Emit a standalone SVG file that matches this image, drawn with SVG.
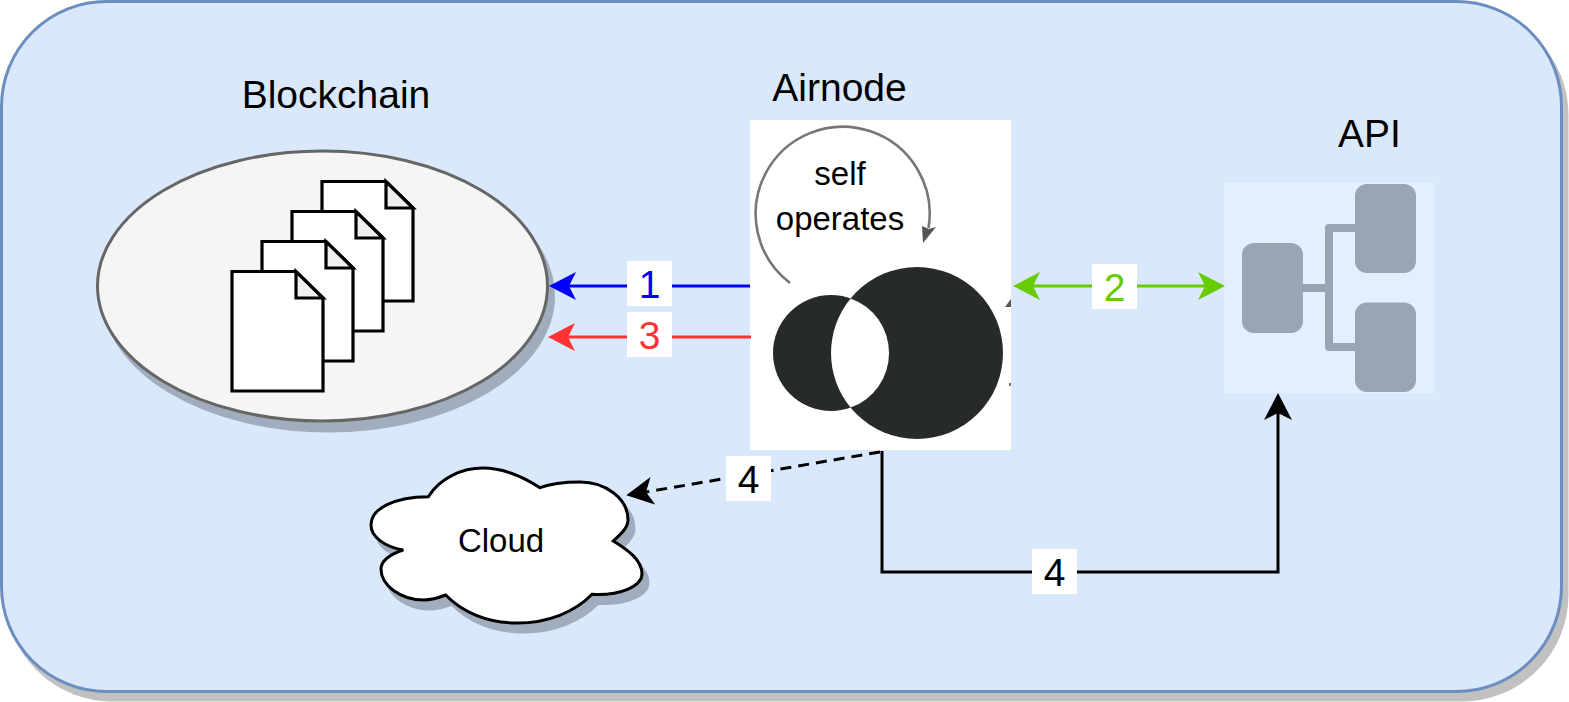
<svg xmlns="http://www.w3.org/2000/svg" width="1569" height="702" viewBox="0 0 1569 702">
<style>
text{font-family:"Liberation Sans",Arial,Helvetica,sans-serif;fill:#000;text-anchor:middle}
.t38{font-size:39px}
.t32{font-size:33px}
.box{fill:#fff}
.doc{fill:#fff;stroke:#000;stroke-width:3.2;stroke-linejoin:miter}
.fold{fill:#f0f0f0;stroke:#000;stroke-width:3.2}
.edge{fill:none;stroke-width:3}
.blk{fill:#9aa4b2}
.lnk{fill:none;stroke:#9aa4b2;stroke-width:8;stroke-linejoin:round}
</style>
<defs>
<filter id="soft" x="-5%" y="-5%" width="110%" height="110%"><feGaussianBlur stdDeviation="0.6"/></filter>
<marker id="mBlue" markerUnits="userSpaceOnUse" markerWidth="27" markerHeight="28" viewBox="0 0 27 28" refX="7" refY="14" orient="auto"><path d="M27,14 L0,0 L7,14 L0,28 Z" fill="#0000ff"/></marker>
<marker id="mRed" markerUnits="userSpaceOnUse" markerWidth="27" markerHeight="28" viewBox="0 0 27 28" refX="7" refY="14" orient="auto"><path d="M27,14 L0,0 L7,14 L0,28 Z" fill="#ff3333"/></marker>
<marker id="mGreen" markerUnits="userSpaceOnUse" markerWidth="27" markerHeight="28" viewBox="0 0 27 28" refX="7" refY="14" orient="auto-start-reverse"><path d="M27,14 L0,0 L7,14 L0,28 Z" fill="#66cc00"/></marker>
<marker id="mBlack" markerUnits="userSpaceOnUse" markerWidth="27" markerHeight="28" viewBox="0 0 27 28" refX="7" refY="14" orient="auto"><path d="M27,14 L0,0 L7,14 L0,28 Z" fill="#000"/></marker>
</defs>

<g id="frame">
<rect x="7" y="10" width="1560" height="690" rx="105" fill="#c1c1c1" stroke="#c1c1c1" stroke-width="3"/>
<rect x="1.5" y="1.5" width="1560" height="690" rx="105" fill="#dae8fc" stroke="#6c8ebf" stroke-width="3"/>
</g>

<g id="blockchain">
<ellipse cx="328.5" cy="296" rx="225" ry="135" fill="#a0adbd" stroke="#a0adbd" stroke-width="3"/>
<ellipse cx="322.5" cy="286" rx="225" ry="135" fill="#f5f5f5" stroke="#666666" stroke-width="3"/>
<g id="doc4"><path class="doc" d="M322,181.5H386L413,208V301H322Z"/><path class="fold" d="M386,181.5V208H413Z"/></g>
<g id="doc3"><path class="doc" d="M292,211.5H356L383,238V331H292Z"/><path class="fold" d="M356,211.5V238H383Z"/></g>
<g id="doc2"><path class="doc" d="M262,241.5H326L353,268V361H262Z"/><path class="fold" d="M326,241.5V268H353Z"/></g>
<g id="doc1"><path class="doc" d="M232,271.5H296L323,298V391H232Z"/><path class="fold" d="M296,271.5V298H323Z"/></g>
<text class="t38" x="336" y="108">Blockchain</text>
</g>

<g id="airnode">
<rect x="750" y="120" width="261" height="330" fill="#fff"/>
<g filter="url(#soft)">
<circle cx="917" cy="353" r="86" fill="#262b2b"/>
<circle cx="831" cy="353" r="58" fill="#262b2b"/>
<path d="M850.6,298.4 A58,58 0 0 1 850.6,407.6 A86,86 0 0 1 850.6,298.4Z" fill="#fff"/>
<path d="M790,283 A87,87 0 1 1 928.5,228" fill="none" stroke="#777" stroke-width="2.6"/>
<path d="M923,243 L922,226 L929,229 L936,227Z" fill="#555"/>
<path d="M1005,307 L1011,299 L1011,307Z" fill="#555"/>
<path d="M1009,383 L1011,383 L1011,386 L1009,386Z" fill="#777"/>
</g>
<text class="t32" x="840" y="185">self</text>
<text class="t32" x="840" y="230">operates</text>
<text class="t38" x="839.5" y="101">Airnode</text>
</g>

<g id="api">
<rect x="1224" y="183" width="210" height="210" fill="#e3eefe"/>
<path class="lnk" d="M1303,288H1329"/>
<path class="lnk" d="M1355,228H1329V347H1355"/>
<rect class="blk" x="1242" y="243" width="61" height="90" rx="12"/>
<rect class="blk" x="1355" y="184" width="61" height="89" rx="12"/>
<rect class="blk" x="1355" y="302.5" width="61" height="89.5" rx="12"/>
<text class="t38" x="1369.5" y="147">API</text>
</g>

<g id="cloud">
<path transform="translate(6,9)" fill="#a0adbd" stroke="#a0adbd" stroke-width="3" d="M428.3,496.7 C440,478 462,468 483,468 C505,468 525,478 540,487.7 C552,483 566,482 580,482 C605,482 628,498 628,520 C628,528 620,535 613.3,541 C628,550 642,560 642,574 C642,586 620,596 592,594.3 C575,612 548,623 517,623 C487,623 462,612 445.7,595 C438,598 432,600 424,600 C400,600 381,585 381,569 C381,561 390,554 403.3,550 C385,547 371,537 371,525 C371,508 395,497 428.3,496.7Z"/>
<path fill="#fff" stroke="#000" stroke-width="3" d="M428.3,496.7 C440,478 462,468 483,468 C505,468 525,478 540,487.7 C552,483 566,482 580,482 C605,482 628,498 628,520 C628,528 620,535 613.3,541 C628,550 642,560 642,574 C642,586 620,596 592,594.3 C575,612 548,623 517,623 C487,623 462,612 445.7,595 C438,598 432,600 424,600 C400,600 381,585 381,569 C381,561 390,554 403.3,550 C385,547 371,537 371,525 C371,508 395,497 428.3,496.7Z"/>
<text class="t32" x="501" y="552">Cloud</text>
</g>

<g id="connectors">
<path class="edge" stroke="#0000ff" d="M750,286H569" marker-end="url(#mBlue)"/>
<path class="edge" stroke="#ff3333" d="M751,337H568" marker-end="url(#mRed)"/>
<path class="edge" stroke="#66cc00" d="M1033,286H1205" marker-start="url(#mGreen)" marker-end="url(#mGreen)"/>
<path class="edge" stroke="#000" stroke-dasharray="11 7" d="M880,452 L646,492" marker-end="url(#mBlack)"/>
<path class="edge" stroke="#000" d="M882,451V572H1278V413" marker-end="url(#mBlack)"/>
<g id="label1"><rect class="box" x="627" y="261" width="45" height="45"/><text class="t38" x="649.5" y="298" style="fill:#0000ff">1</text></g>
<g id="label3"><rect class="box" x="627" y="312" width="45" height="45"/><text class="t38" x="649.5" y="349" style="fill:#ff3333">3</text></g>
<g id="label2"><rect class="box" x="1092" y="264" width="45" height="45"/><text class="t38" x="1114.5" y="301" style="fill:#66cc00">2</text></g>
<g id="label4a"><rect class="box" x="726" y="456" width="45" height="45"/><text class="t38" x="748.5" y="493">4</text></g>
<g id="label4b"><rect class="box" x="1032" y="549" width="45" height="45"/><text class="t38" x="1054.5" y="586">4</text></g>
</g>
</svg>
